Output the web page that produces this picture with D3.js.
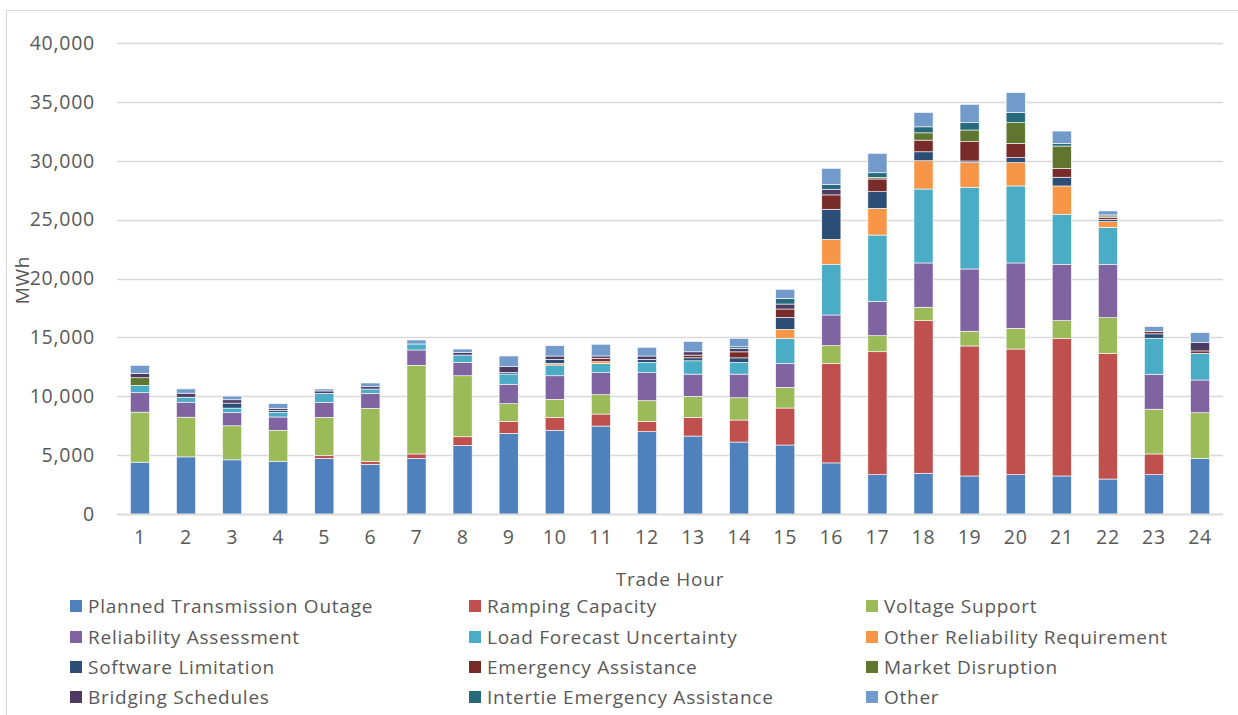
<!DOCTYPE html>
<html>
<head>
<meta charset="utf-8">
<script src="https://cdn.jsdelivr.net/npm/d3@7/dist/d3.min.js"></script>
<style>
  html, body { margin: 0; padding: 0; background: #fff; }
  svg { display: block; }
  text { font-family: "Open Sans", "Liberation Sans", sans-serif; fill: #595959; letter-spacing: 0.75px; }
</style>
</head>
<body>
<svg id="chart" width="1238" height="715"></svg>
<script>
const hours = ["1","2","3","4","5","6","7","8","9","10","11","12","13","14","15","16","17","18","19","20","21","22","23","24"];
const yTicks = [0, 5000, 10000, 15000, 20000, 25000, 30000, 35000, 40000];

const seriesNames = ["Planned Transmission Outage","Ramping Capacity","Voltage Support","Reliability Assessment","Load Forecast Uncertainty","Other Reliability Requirement","Software Limitation","Emergency Assistance","Market Disruption","Bridging Schedules","Intertie Emergency Assistance","Other"];
const seriesColors = ["#4F81BD","#C0504D","#9BBB59","#8064A2","#4BACC6","#F79646","#2C4D75","#772C2A","#5F7530","#4D3B62","#276A7C","#729ACA"];

const planned     = [4400,4850,4600,4480,4730,4220,4730,5830,6850,7110,7470,6990,6620,6110,5860,4340,3340,3460,3230,3340,3230,2970,3340,4730];
const ramping     = [0,0,0,0,220,255,370,730,1020,1100,1020,880,1590,1870,3140,8460,10440,12960,11040,10670,11690,10680,1760,0];
const voltage     = [4250,3370,2890,2630,3260,4500,7530,5180,1500,1530,1640,1750,1780,1890,1760,1500,1360,1140,1250,1760,1500,3020,3800,3870];
const reliability = [1650,1275,1130,1130,1275,1275,1300,1140,1650,2000,1870,2380,1890,2010,2040,2600,2920,3760,5290,5550,4790,4540,2970,2780];
const loadFcst    = [620,425,375,400,765,365,510,620,870,910,800,880,1130,990,2120,4310,5630,6280,6940,6540,4250,3140,3060,2270];
const otherRel    = [0,0,0,0,0,0,0,0,0,145,135,0,0,0,760,2120,2270,2400,2090,1980,2400,480,0,0];
const software    = [0,0,425,150,0,0,0,0,120,340,0,255,255,390,1020,2550,1410,760,140,420,740,200,370,0];
const emergency   = [0,0,0,0,0,0,0,0,0,0,290,0,230,510,710,1220,1080,990,1640,1220,760,140,200,200];
const market      = [650,0,0,0,0,0,0,0,0,0,0,0,0,0,0,0,140,620,990,1750,1890,140,0,0];
const bridging    = [370,340,280,190,200,195,0,200,500,280,195,280,280,290,420,480,0,0,0,0,0,90,0,700];
const intertie    = [0,0,0,0,0,0,0,0,0,0,0,0,0,140,480,420,390,510,620,880,230,0,0,0];
const other       = [680,365,315,390,170,315,340,310,910,875,995,740,880,710,770,1360,1650,1220,1560,1670,1040,340,420,850];

const seriesValues = [planned, ramping, voltage, reliability, loadFcst, otherRel, software, emergency, market, bridging, intertie, other];

const table = hours.map((h, i) => {
  const row = { hour: h };
  seriesNames.forEach((n, k) => { row[n] = seriesValues[k][i]; });
  return row;
});

const svg = d3.select("#chart");

// outer frame
svg.append("rect").attr("x", 6.5).attr("y", 10.5).attr("width", 1300).attr("height", 800)
  .attr("fill", "none").attr("stroke", "#d9d9d9").attr("stroke-width", 1);

const x = d3.scaleBand().domain(hours).range([117, 1223]).paddingInner(0.585).paddingOuter(0.29);
const y = d3.scaleLinear().domain([0, 40000]).range([514, 43]);

// gridlines
svg.append("g").selectAll("line").data(yTicks).join("line")
  .attr("x1", 117).attr("x2", 1223)
  .attr("y1", d => Math.round(y(d)) + 0.5).attr("y2", d => Math.round(y(d)) + 0.5)
  .attr("stroke", "#d9d9d9").attr("stroke-width", 1.3);

// y axis labels
const yAxis = d3.axisLeft(y).tickValues(yTicks).tickSize(0).tickPadding(0).tickFormat(d3.format(","));
const gy = svg.append("g").attr("transform", "translate(95,0)").call(yAxis);
gy.select(".domain").remove();
gy.selectAll("text").attr("font-size", 19.5).attr("fill", "#595959")
  .style("font-family", '"Open Sans", sans-serif');

// stacked bars
const stack = d3.stack().keys(seriesNames);
const stacked = stack(table);
svg.append("g").selectAll("g").data(stacked).join("g")
  .attr("fill", (d, i) => seriesColors[i])
  .selectAll("rect").data(d => d.filter(s => s[1] - s[0] > 0)).join("rect")
  .attr("x", d => x(d.data.hour))
  .attr("width", x.bandwidth())
  .attr("y", d => y(d[1]))
  .attr("height", d => y(d[0]) - y(d[1]))
  .attr("stroke", "#ffffff").attr("stroke-width", 0.6);

// x axis
const xAxis = d3.axisBottom(x).tickSize(0).tickPadding(0);
const gx = svg.append("g").attr("transform", "translate(0,514)").call(xAxis);
gx.select(".domain").remove();
gx.selectAll("text").attr("dy", "1.55em").attr("font-size", 19.5).attr("fill", "#595959")
  .style("font-family", '"Open Sans", sans-serif');
svg.append("line").attr("x1", 117).attr("x2", 1223).attr("y1", 514.5).attr("y2", 514.5)
  .attr("stroke", "#d9d9d9").attr("stroke-width", 1.3);

// axis titles
svg.append("text").attr("x", 670).attr("y", 586).attr("text-anchor", "middle")
  .attr("font-size", 19).text("Trade Hour");
svg.append("text").attr("transform", "translate(29,280) rotate(-90)").attr("text-anchor", "middle")
  .attr("font-size", 19).text("MWh");

// legend
const colX = [70, 469, 866];
const rowY = [606, 637, 667, 697];
const lg = svg.append("g");
seriesNames.forEach((n, i) => {
  const cx = colX[i % 3], cy = rowY[Math.floor(i / 3)];
  lg.append("rect").attr("x", cx).attr("y", cy - 6).attr("width", 12).attr("height", 12).attr("fill", seriesColors[i]);
  lg.append("text").attr("x", cx + 18).attr("y", cy).attr("dy", "0.35em").attr("font-size", 19).text(n);
});
</script>
</body>
</html>
